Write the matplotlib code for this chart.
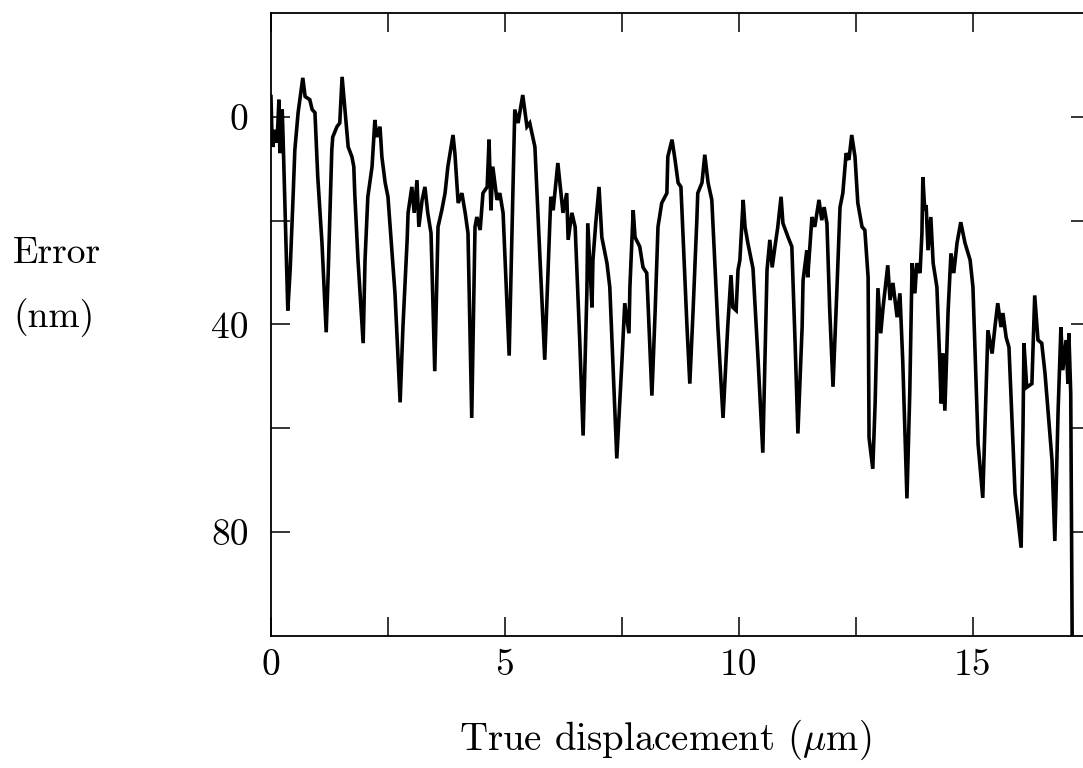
import numpy as np
import matplotlib
matplotlib.use('Agg')
import matplotlib.pyplot as plt
from matplotlib.ticker import FixedLocator, FixedFormatter, NullFormatter

matplotlib.rcParams['font.family'] = ['cmr10', 'DejaVu Serif']
matplotlib.rcParams['mathtext.fontset'] = 'cm'
matplotlib.rcParams['axes.formatter.use_mathtext'] = True

# true displacement (um)
displacement = [
    0.00, 0.02, 0.04, 0.09, 0.13, 0.17, 0.19, 0.24, 0.26, 0.36, 0.41, 0.47,
    0.51, 0.56, 0.58, 0.68, 0.73, 0.83, 0.88, 0.94, 1.00, 1.09, 1.18, 1.22,
    1.30, 1.32, 1.41, 1.47, 1.52, 1.58, 1.65, 1.73, 1.77, 1.79, 1.86, 1.97,
    2.01, 2.07, 2.16, 2.22, 2.26, 2.33, 2.37, 2.44, 2.50, 2.65, 2.76, 2.82,
    2.91, 2.93, 3.01, 3.06, 3.12, 3.16, 3.23, 3.29, 3.35, 3.42, 3.50, 3.57,
    3.65, 3.72, 3.78, 3.89, 3.93, 4.00, 4.08, 4.15, 4.21, 4.29, 4.36, 4.40,
    4.47, 4.53, 4.62, 4.66, 4.70, 4.74, 4.83, 4.89, 4.96, 5.09, 5.17, 5.21,
    5.28, 5.38, 5.47, 5.53, 5.64, 5.75, 5.85, 5.92, 5.98, 6.03, 6.13, 6.24,
    6.32, 6.35, 6.43, 6.50, 6.60, 6.67, 6.75, 6.77, 6.86, 6.88, 6.94, 7.01,
    7.07, 7.18, 7.24, 7.39, 7.50, 7.56, 7.65, 7.67, 7.74, 7.78, 7.88, 7.95,
    8.03, 8.14, 8.21, 8.27, 8.35, 8.46, 8.48, 8.57, 8.63, 8.70, 8.76, 8.89,
    8.95, 9.02, 9.10, 9.12, 9.21, 9.27, 9.34, 9.42, 9.55, 9.66, 9.76, 9.83,
    9.87, 9.94, 9.98, 10.02, 10.09, 10.13, 10.19, 10.30, 10.41, 10.51, 10.60,
    10.66, 10.71, 10.77, 10.83, 10.90, 10.94, 11.05, 11.13, 11.20, 11.26,
    11.35, 11.37, 11.45, 11.47, 11.56, 11.62, 11.71, 11.77, 11.82, 11.88,
    11.94, 12.01, 12.09, 12.16, 12.22, 12.29, 12.35, 12.41, 12.48, 12.54,
    12.63, 12.69, 12.76, 12.78, 12.86, 12.91, 12.95, 12.97, 13.03, 13.08,
    13.18, 13.23, 13.29, 13.38, 13.44, 13.50, 13.59, 13.65, 13.70, 13.76,
    13.80, 13.87, 13.91, 13.93, 13.97, 14.00, 14.04, 14.10, 14.15, 14.23,
    14.29, 14.32, 14.36, 14.40, 14.47, 14.53, 14.59, 14.66, 14.74, 14.83,
    14.94, 15.00, 15.11, 15.21, 15.30, 15.32, 15.41, 15.47, 15.53, 15.60,
    15.64, 15.71, 15.77, 15.90, 15.96, 16.03, 16.07, 16.09, 16.15, 16.26,
    16.32, 16.39, 16.47, 16.54, 16.69, 16.75, 16.82, 16.88, 16.92, 16.99,
    17.03, 17.05, 17.09, 17.12,
]

# error (nm)
error = [
    -3.9, 3.1, 5.8, 2.5, 5.0, -3.3, 7.0, -1.4, 4.4, 37.3, 29.5, 16.0,
    6.4, 1.2, -0.8, -7.5, -3.9, -3.3, -1.4, -0.8, 11.6, 24.3, 41.5, 31.0,
    6.4, 3.9, 1.9, 1.2, -7.7, -1.4, 5.8, 7.7, 9.6, 14.7, 27.6, 43.6,
    27.6, 15.4, 9.6, 0.6, 3.9, 1.9, 7.7, 12.7, 15.4, 34.0, 55.0, 40.5,
    23.7, 18.5, 13.5, 18.5, 12.2, 21.2, 16.0, 13.5, 18.5, 22.4, 49.0, 21.2,
    18.0, 14.7, 9.6, 3.5, 7.0, 16.6, 14.7, 18.5, 22.4, 58.0, 21.2, 19.3,
    21.8, 14.7, 13.5, 4.4, 18.0, 9.6, 16.0, 14.7, 18.5, 46.0, 14.7, -1.4,
    1.2, -4.2, 1.9, 1.2, 5.8, 27.6, 46.8, 30.0, 15.4, 18.0, 8.9, 18.5,
    14.7, 23.7, 18.5, 21.2, 43.6, 61.4, 34.0, 20.5, 36.7, 27.6, 20.5, 13.5,
    23.2, 28.2, 32.8, 65.8, 47.0, 35.9, 41.7, 32.8, 18.0, 23.2, 25.0, 29.0,
    30.1, 53.7, 37.3, 21.2, 16.6, 14.7, 7.7, 4.4, 8.0, 12.7, 13.5, 40.5,
    51.4, 37.3, 19.9, 14.7, 12.7, 7.3, 12.7, 16.0, 40.5, 58.0, 40.5, 30.5,
    36.7, 37.3, 29.5, 27.6, 16.0, 21.2, 24.3, 29.2, 47.0, 64.7, 29.5,
    23.7, 29.0, 25.0, 21.2, 15.4, 20.5, 23.2, 25.0, 43.6, 61.0,
    40.5, 31.5, 25.7, 30.9, 19.3, 21.2, 16.0, 19.9, 17.4, 20.5,
    37.3, 52.0, 34.0, 17.4, 14.7, 7.0, 8.3, 3.5, 7.7, 16.6,
    21.2, 21.8, 30.9, 61.8, 67.8, 55.2, 40.5, 33.0, 41.7, 36.7,
    28.6, 35.3, 32.0, 38.6, 34.0, 47.0, 73.5, 53.3, 28.2, 34.0,
    28.2, 30.1, 22.4, 11.6, 18.0, 17.0, 25.7, 19.3, 28.2, 32.8,
    47.0, 55.2, 45.6, 56.6, 37.3, 26.3, 30.1, 24.3, 20.3, 24.3,
    27.6, 32.8, 63.0, 73.4, 47.0, 41.1, 45.6, 40.5, 35.9, 40.5,
    37.8, 42.5, 44.4, 72.6, 77.2, 83.0, 59.8, 43.6, 52.1, 51.4,
    34.4, 43.0, 43.6, 49.4, 66.2, 81.7, 56.6, 40.5, 48.8, 43.0,
    51.4, 41.7, 53.3, 100.0,
]

x_major = [0, 5, 10, 15]
x_minor = [2.5, 7.5, 12.5, 17.5]
y_major = [0, 40, 80]
y_minor = [20, 60]

fig = plt.figure(figsize=(10.83, 7.68), dpi=100)
# right spine falls just outside the picture, as in the scanned original
ax = fig.add_axes([0.2502, 0.1719, 0.7562, 0.8112])

ax.plot(displacement, error, color='black', linewidth=2.6,
        solid_joinstyle='miter')

ax.set_xlim(0, 17.5)
ax.set_ylim(100, -20)

ax.xaxis.set_major_locator(FixedLocator(x_major))
ax.xaxis.set_minor_locator(FixedLocator(x_minor))
ax.xaxis.set_major_formatter(FixedFormatter([str(v) for v in x_major]))
ax.xaxis.set_minor_formatter(NullFormatter())
ax.yaxis.set_major_locator(FixedLocator(y_major))
ax.yaxis.set_minor_locator(FixedLocator(y_minor))
ax.yaxis.set_major_formatter(FixedFormatter([str(v) for v in y_major]))
ax.yaxis.set_minor_formatter(NullFormatter())

ax.tick_params(which='both', direction='in', top=True, right=True,
               length=14, width=1.1, color='black')
ax.tick_params(axis='x', which='major', labelsize=27, pad=9)
ax.tick_params(axis='y', which='major', labelsize=27, pad=16)

for sp in ax.spines.values():
    sp.set_linewidth(1.3)

fig.text(13 / 1083, 1 - 253 / 768, 'Error', fontsize=27,
         ha='left', va='center')
fig.text(13 / 1083, 1 - 318 / 768, '(nm)', fontsize=27,
         ha='left', va='center')
fig.text(665 / 1083, 1 - 740 / 768, r'True displacement ($\mu$m)',
         fontsize=28, ha='center', va='center')

fig.savefig('out.png', dpi=100)
